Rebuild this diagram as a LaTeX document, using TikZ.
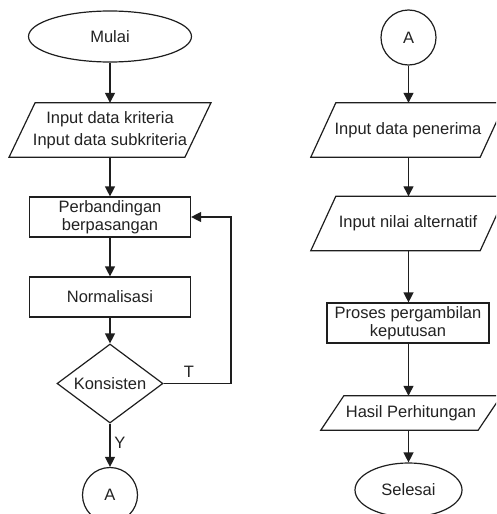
\documentclass[tikz,border=0pt]{standalone}
\usepackage{fontspec}
\setmainfont{Liberation Sans}
\usetikzlibrary{arrows.meta,shapes.geometric,calc}
\definecolor{ln}{HTML}{1E1E1E}
\definecolor{tx}{HTML}{222222}
\newcommand\drawparal[2]{\draw[shp] ([xshift=#2]#1.north west) -- ([xshift=#2]#1.north east) -- ([xshift=-#2]#1.south east) -- ([xshift=-#2]#1.south west) -- cycle;}
\begin{document}
\begin{tikzpicture}[x=1pt,y=-1pt,
  every node/.style={font=\fontsize{16.5}{21.5}\selectfont, text=tx, align=center, inner sep=0pt},
  shp/.style={draw=ln, line width=1.2pt},
  boxn/.style={shp, rectangle, minimum width=161pt, minimum height=40pt, font=\fontsize{16.5}{18.5}\selectfont},
  ell/.style={shp, ellipse},
  circ/.style={shp, circle, minimum size=55pt},
  dia/.style={shp, diamond, aspect=1.34, minimum width=106pt, minimum height=79pt},
  pn/.style={rectangle, draw=none},
  arr/.style={draw=ln, line width=1.3pt, -{Triangle[length=10pt,width=10pt]}},
  lbl/.style={font=\fontsize{16.5}{20}\selectfont}
]
\useasboundingbox (0,0) rectangle (496,514);
\clip (0,0) rectangle (496,514);

% left column
\node[ell, minimum width=163pt, minimum height=51pt] (mulai) at (110,36.5) {Mulai};
\node[pn, minimum width=175.5pt, minimum height=54pt] (in1) at (110,130) {Input data kriteria\\Input data subkriteria};
\drawparal{in1}{13pt}
\node[boxn] (perb) at (110,217) {Perbandingan\\berpasangan};
\node[boxn] (norm) at (110,297) {Normalisasi};
\node[dia] (kons) at (110,383.5) {Konsisten};
\node[circ] (a1) at (110,495) {A};
\coordinate (tc) at (231,383.5);
\node[lbl] (tl) at (189,372) {T};
\node[lbl] (yl) at (120,443) {Y};

\draw[arr] (mulai.south) -- (in1.north);
\draw[arr] (in1.south) -- (perb.north);
\draw[arr] (perb.south) -- (norm.north);
\draw[arr] (norm.south) -- (kons.north);
\draw[arr] (kons.south) -- (a1.north);
\draw[arr] (kons.east) -- (tc) |- (perb.east);

% right column
\node[circ] (a2) at (408.5,37.5) {A};
\node[pn, minimum width=169pt, minimum height=54pt] (in3) at (408,130) {Input data penerima};
\drawparal{in3}{12.5pt}
\node[pn, minimum width=169pt, minimum height=54pt] (in4) at (408,223.5) {Input nilai alternatif};
\drawparal{in4}{12.5pt}
\node[boxn, minimum width=162pt] (pros) at (408,323) {Proses pergambilan\\keputusan};
\node[pn, minimum width=157pt, minimum height=34pt] (hasil) at (411,413) {Hasil Perhitungan};
\drawparal{hasil}{11.5pt}
\node[ell, minimum width=107pt, minimum height=54pt] (sel) at (408.5,490) {Selesai};

\draw[arr] (a2.south) -- (a2.south |- in3.north);
\draw[arr] (a2.south |- in3.south) -- (a2.south |- in4.north);
\draw[arr] (a2.south |- in4.south) -- (a2.south |- pros.north);
\draw[arr] (a2.south |- pros.south) -- (a2.south |- hasil.north);
\draw[arr] (a2.south |- hasil.south) -- (sel.north);
\end{tikzpicture}
\end{document}
